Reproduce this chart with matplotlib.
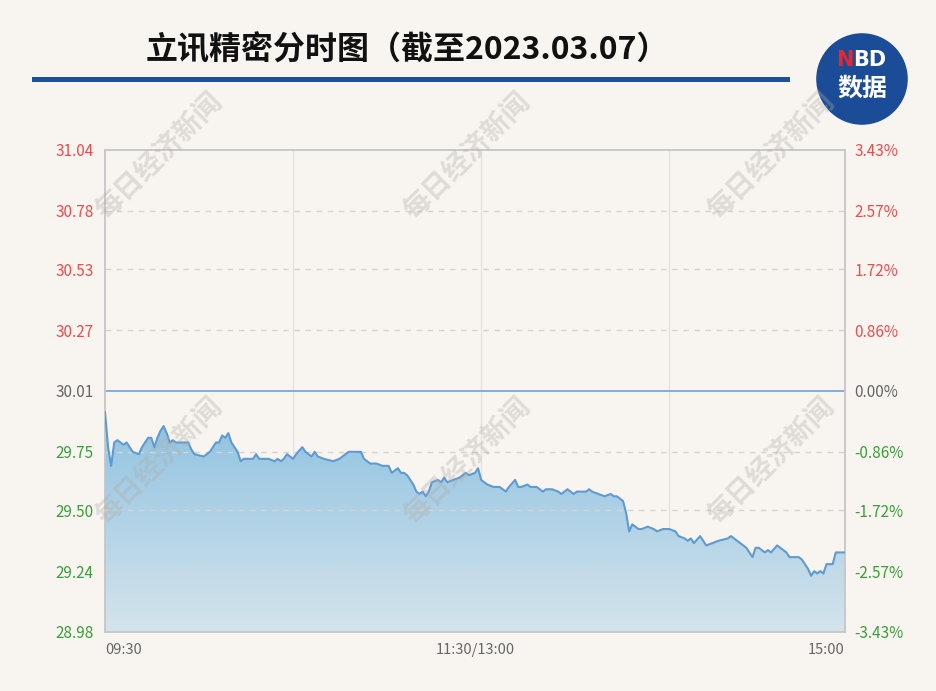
import matplotlib.pyplot as plt
from matplotlib.colors import LinearSegmentedColormap
from matplotlib.patches import Circle, Rectangle
import numpy as np

plt.rcParams['font.family'] = ['Noto Sans CJK SC', 'DejaVu Sans']

# ---- data
title = '立讯精密分时图（截至2023.03.07）'
prevClose = 30.01
yTicks = [28.98, 29.24, 29.50, 29.75, 30.01, 30.27, 30.53, 30.78, 31.04]
pctLabels = ['-3.43%', '-2.57%', '-1.72%', '-0.86%', '0.00%', '0.86%', '1.72%', '2.57%', '3.43%']
xLabels = ['09:30', '11:30/13:00', '15:00']
xLabelMinutes = [0, 120, 240]
splitMinutes = [61, 122, 183]

# minutes since 09:30 (lunch break removed) and last price
minutes = [0, 1, 2, 3, 4, 5, 6, 7, 9, 11, 12, 14, 15, 16, 17, 18, 19, 20, 21, 22, 23, 27, 28, 29, 32, 34, 36, 37, 38, 39, 40,
           41, 43, 44, 45, 46, 48, 49, 50, 52, 53, 55, 56, 57, 58, 59, 61, 62, 64, 65, 67, 68, 69, 71, 74, 76, 78, 79, 81,
           83, 84, 86, 88, 90, 92, 93, 95, 96, 97, 98, 100, 101, 102, 103, 104, 105, 106, 108, 109, 110, 111, 113, 115,
           117, 118, 120, 121, 122, 124, 126, 128, 130, 131, 133, 134, 135, 137, 138, 140, 142, 143, 145, 147, 148, 150,
           152, 153, 156, 157, 158, 160, 162, 164, 165, 166, 168, 169, 170, 171, 172, 173, 174, 176, 178, 179, 181, 182,
           183, 185, 186, 188, 189, 190, 191, 193, 194, 195, 197, 199, 202, 203, 204, 206, 208, 210, 211, 212, 214, 215,
           216, 218, 219, 221, 222, 225, 226, 228, 229, 230, 231, 232, 233, 234, 236, 237, 238, 240]
prices = [29.92, 29.77, 29.69, 29.79, 29.80, 29.79, 29.78, 29.79, 29.75, 29.74, 29.77, 29.81, 29.81, 29.77, 29.81, 29.84,
          29.86, 29.83, 29.79, 29.80, 29.79, 29.79, 29.76, 29.74, 29.73, 29.75, 29.79, 29.79, 29.82, 29.81, 29.83,
          29.79, 29.75, 29.71, 29.72, 29.72, 29.72, 29.74, 29.72, 29.72, 29.72, 29.71, 29.72, 29.71, 29.72, 29.74,
          29.72, 29.74, 29.77, 29.75, 29.73, 29.75, 29.73, 29.72, 29.71, 29.72, 29.74, 29.75, 29.75,
          29.75, 29.72, 29.70, 29.70, 29.69, 29.69, 29.66, 29.68, 29.66, 29.66, 29.65, 29.61, 29.58, 29.57, 29.58,
          29.56, 29.58, 29.62, 29.63, 29.62, 29.64, 29.62, 29.63, 29.64, 29.66, 29.65, 29.66, 29.68, 29.63, 29.61,
          29.60, 29.60, 29.58, 29.60, 29.63, 29.60, 29.60, 29.61, 29.60, 29.60, 29.58, 29.59, 29.59, 29.58, 29.57,
          29.59, 29.57, 29.58, 29.58, 29.59, 29.58, 29.57, 29.56, 29.57, 29.56, 29.56, 29.54, 29.49, 29.41, 29.44,
          29.43, 29.42, 29.42, 29.43, 29.42, 29.41, 29.42, 29.42, 29.42, 29.41, 29.39, 29.38, 29.37, 29.38, 29.36,
          29.39, 29.37, 29.35, 29.36, 29.37, 29.38, 29.39, 29.38, 29.36, 29.34, 29.30, 29.34, 29.34, 29.32, 29.33,
          29.32, 29.35, 29.34, 29.32, 29.30, 29.30, 29.29, 29.25, 29.22, 29.24, 29.23, 29.24, 29.23, 29.27, 29.27,
          29.32, 29.32, 29.32]

# ---- colours
bg = '#f8f5f1'
upColor = '#f04a4a'
downColor = '#3a9e3a'
flatColor = '#666666'
lineColor = '#5f9ad0'

W, H = 937, 691
fig = plt.figure(figsize=(W / 100, H / 100), dpi=100, facecolor=bg)
ax = fig.add_axes([105 / W, 1 - 632 / H, 740 / W, 482 / H])
ax.set_facecolor(bg)

yMin, yMax = yTicks[0], yTicks[-1]

# gradient area under the line
cmap = LinearSegmentedColormap.from_list('fillGrad', ['#d4e4ec', '#8ec2e1'])
grad = np.linspace(0, 1, 256).reshape(-1, 1)
img = ax.imshow(grad, aspect='auto', cmap=cmap, origin='lower',
                extent=[0, 240, yMin, max(prices)], zorder=1)
poly = ax.fill_between(minutes, prices, yMin, color='none', lw=0)
img.set_clip_path(poly.get_paths()[0], transform=ax.transData)

ax.plot(minutes, prices, color=lineColor, lw=1.5, zorder=3)

# grid
for v in yTicks[1:-1]:
    if v == prevClose:
        ax.axhline(v, color='#6fa2d4', lw=1.2, zorder=2)
    else:
        ax.axhline(v, color='#d6d3d0', lw=1, ls=(0, (4, 4)), zorder=2)
for m in splitMinutes:
    ax.axvline(m, color='#e6e3df', lw=1, zorder=0.5)

ax.set_xlim(0, 240)
ax.set_ylim(yMin, yMax)
for s in ax.spines.values():
    s.set_color('#c6c6c6')
    s.set_linewidth(1.3)

def tickColor(v):
    if abs(v - prevClose) < 1e-6:
        return flatColor
    return upColor if v > prevClose else downColor

ax.set_yticks(yTicks)
ax.set_yticklabels([f'{v:.2f}' for v in yTicks])
for lab, v in zip(ax.get_yticklabels(), yTicks):
    lab.set_color(tickColor(v))
ax.tick_params(axis='y', length=0, pad=8, labelsize=11)

ax2 = ax.twinx()
ax2.set_ylim(yMin, yMax)
ax2.set_yticks(yTicks)
ax2.set_yticklabels(pctLabels)
for lab, v in zip(ax2.get_yticklabels(), yTicks):
    lab.set_color(tickColor(v))
ax2.tick_params(axis='y', length=0, pad=7, labelsize=11)
for s in ax2.spines.values():
    s.set_visible(False)

ax.set_xticks(xLabelMinutes)
ax.set_xticklabels(xLabels)
ax.tick_params(axis='x', length=0, pad=8, labelsize=10.5, labelcolor=flatColor)
xl = ax.get_xticklabels()
xl[0].set_ha('left')
xl[-1].set_ha('right')

# title + blue rule
fig.text(407 / W, 1 - 50 / H, title, ha='center', va='center', fontsize=23, fontweight='bold', color='#111111')
fig.add_artist(Rectangle((32 / W, 1 - 82 / H), 758 / W, 5 / H, transform=fig.transFigure,
                         color='#1c4f9c', lw=0))

# NBD logo
axLogo = fig.add_axes([816 / W, 1 - 125 / H, 92 / W, 92 / H])
axLogo.set_xlim(0, 1)
axLogo.set_ylim(0, 1)
axLogo.axis('off')
axLogo.add_patch(Circle((0.5, 0.5), 0.49, color='#1b4c98'))
axLogo.text(0.41, 0.71, 'N', color='#e8262b', fontsize=15, fontweight='bold', ha='right', va='center',
            family='DejaVu Sans')
axLogo.text(0.40, 0.71, 'BD', color='white', fontsize=15, fontweight='bold', ha='left', va='center',
            family='DejaVu Sans')
axLogo.text(0.5, 0.39, '数据', color='white', fontsize=18, fontweight='bold', ha='center', va='center')

# watermarks
for cx in [160, 468, 772]:
    for cy in [157, 462]:
        fig.text(cx / W, 1 - cy / H, '每日经济新闻', rotation=45, ha='center', va='center',
                 fontsize=20, fontweight='bold', color='#b0aca8', alpha=0.35, zorder=10)

fig.savefig('out.png', dpi=100, facecolor=bg)
